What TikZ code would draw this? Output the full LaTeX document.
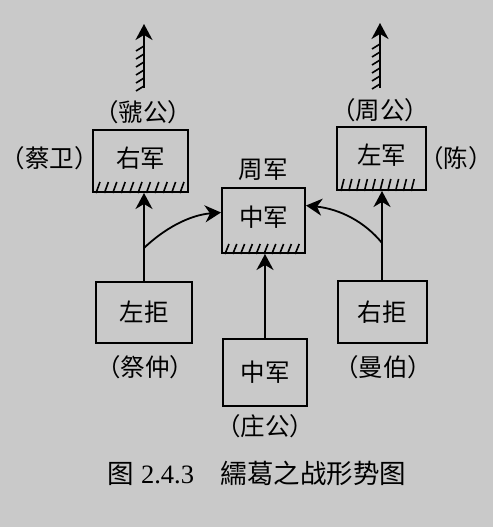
\documentclass[tikz,border=0pt]{standalone}
\usepackage{fontspec}
\setmainfont{Liberation Serif}
\newfontfamily\cjk{Noto Sans CJK SC}
\usetikzlibrary{arrows.meta,calc}
\definecolor{bg}{RGB}{201,201,201}
\begin{document}
\begin{tikzpicture}[x=1pt,y=-1pt,
 box/.style={draw=black,line width=2pt,rectangle,inner sep=0pt,font=\cjk\fontsize{24.5}{24.5}\selectfont},
 hbox/.style={box,text height=19pt,text depth=7pt},
 pbox/.style={box,text height=22pt,text depth=4pt},
 lbl/.style={inner sep=0pt,font=\cjk\fontsize{24.5}{24.5}\selectfont},
 captext/.style={inner sep=0pt,font=\fontsize{26.5}{26.5}\selectfont},
 arr/.style={line width=1.8pt,-{Stealth[length=16pt,width=17pt,inset=5pt]}},
 hatch/.style={line width=1.6pt}]
\fill[bg] (0,0) rectangle (493,527);
\useasboundingbox (0,0) rectangle (493,527);

% boxes
\node[hbox,minimum width=95pt,minimum height=62pt] (R) at (140.5,161) {右军};
\node[hbox,minimum width=89pt,minimum height=63pt] (L) at (381.5,158.5) {左军};
\node[hbox,minimum width=83pt,minimum height=65pt] (M) at (263.5,220.5) {中军};
\node[pbox,minimum width=96pt,minimum height=61pt] (BL) at (144,312.5) {左拒};
\node[pbox,minimum width=84pt,minimum height=67pt] (BM) at (265,372.5) {中军};
\node[pbox,minimum width=89pt,minimum height=62pt] (BR) at (382,312) {右拒};

% hatching along bottom edges
\foreach \i in {0,...,10} \draw[hatch] ([xshift=4pt+\i*8.4pt]R.south west) -- ++(4,-11);
\foreach \i in {0,...,9} \draw[hatch] ([xshift=5pt+\i*7.8pt]L.south west) -- ++(3,-12);
\foreach \i in {0,...,9} \draw[hatch] ([xshift=4pt+\i*7.8pt]M.south west) -- ++(4,-10);

% labels
\node[lbl] (tR) at (143,112) {（虢公）};
\node[lbl] (sR) at (50,158) {（蔡卫）};
\node[lbl] (tM) at (263,170) {周军};
\node[lbl] (tL) at (380,110) {（周公）};
\node[lbl] (sL) at (456,158) {（陈）};
\node[lbl] (tBL) at (145,367) {（祭仲）};
\node[lbl] (tBM) at (265,426) {（庄公）};
\node[lbl] (tBR) at (383,367) {（曼伯）};
\node[captext] (caption) at (257,473) {{\cjk 图} 2.4.3\quad{\cjk 繻葛之战形势图}};

% top arrows with hooks
\coordinate (ra0) at (144,88);
\coordinate (ra1) at (144,24);
\coordinate (la0) at (380,88);
\coordinate (la1) at (380,23);
\draw[arr] (ra0) -- (ra1);
\draw[arr] (la0) -- (la1);
\foreach \y in {46,54,...,86} \draw[hatch] (144,\y) -- ++(-8,5);
\foreach \y in {44,52,...,84} \draw[hatch] (380,\y) -- ++(-8,5);

% vertical connectors
\draw[arr] (BL.north) -- (BL.north |- R.south);
\draw[arr] (BR.north) -- (BR.north |- L.south);
\draw[arr] (BM.north) -- (BM.north |- M.south);

% curved connectors
\coordinate (yl) at (0,248);
\coordinate (yr) at (0,243);
\coordinate (jl) at (BL.north |- yl);
\coordinate (jr) at (BR.north |- yr);
\draw[arr] (jl) .. controls (165,228) and (190,215) .. ([yshift=8pt]M.west);
\draw[arr] (jr) .. controls (365,222) and (340,209) .. ([yshift=15pt]M.east);
\end{tikzpicture}
\end{document}
